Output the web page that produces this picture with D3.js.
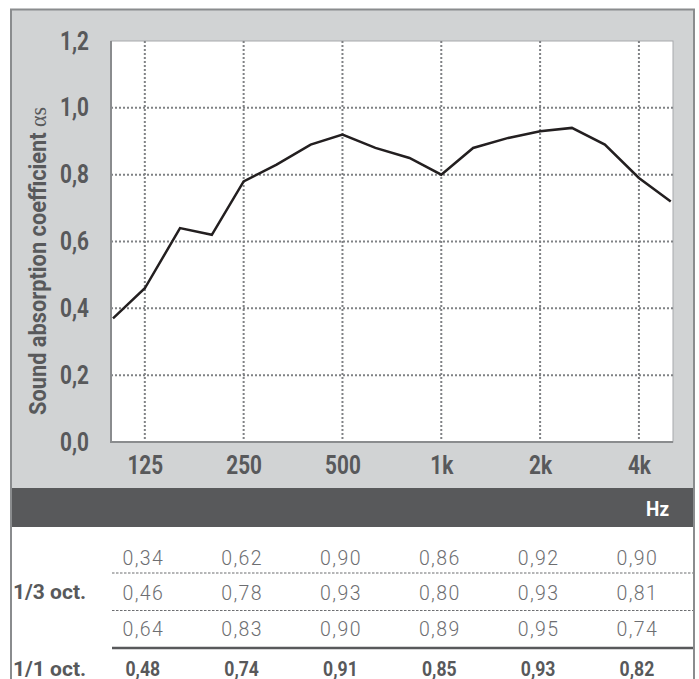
<!DOCTYPE html>
<html>
<head>
<meta charset="utf-8">
<script src="https://cdn.jsdelivr.net/npm/d3@7"></script>
<style>
  body { margin: 0; background: #fff; }
  text { font-family: Roboto, "Liberation Sans", sans-serif; }
</style>
</head>
<body>
<script>
// data
const thirdOctFreqs = [100,125,160,200,250,315,400,500,630,800,1000,1250,1600,2000,2500,3150,4000,5000];
const curveValues = [0.37,0.46,0.64,0.62,0.78,0.83,0.89,0.92,0.88,0.85,0.80,0.88,0.91,0.93,0.94,0.89,0.79,0.72];
const thirdOctValues = [0.34,0.46,0.64,0.62,0.78,0.83,0.90,0.93,0.90,0.86,0.80,0.89,0.92,0.93,0.95,0.90,0.81,0.74];
const octFreqs = [125,250,500,1000,2000,4000];
const octLabels = ['125','250','500','1k','2k','4k'];
const octValues = [0.48,0.74,0.91,0.85,0.93,0.82];
const yTicks = [0,0.2,0.4,0.6,0.8,1.0,1.2];

const W = 699, H = 679;
const plot = {left: 111, right: 673, top: 41, bottom: 442};
const dark = '#58595b';
const comma = v => d3.format('.2f')(v).replace('.', ',');

// condensed look: squeeze text horizontally round its anchor
function squeeze(sel, sx) {
    sel.each(function() {
        const t = d3.select(this);
        const x0 = +t.attr('x') || 0, y0 = +t.attr('y') || 0;
        t.attr('x', 0).attr('y', 0)
            .attr('transform', `translate(${x0},${y0}) scale(${sx},1)`);
    });
}

const svg = d3.select('body').append('svg')
    .attr('width', W)
    .attr('height', H);

const x = d3.scaleLog().base(2)
    .domain([98.6, 5080])
    .range([plot.left, plot.right]);

const y = d3.scaleLinear()
    .domain([0, 1.2])
    .range([plot.bottom, plot.top]);

// outer panel + dark band
svg.append('rect')
    .attr('x', 11).attr('y', 9.5)
    .attr('width', 683).attr('height', 479)
    .attr('fill', '#d1d3d4');
svg.append('rect')
    .attr('x', 11).attr('y', 488)
    .attr('width', 683).attr('height', 39)
    .attr('fill', dark);
svg.append('path')
    .attr('d', `M11,${H} V9.5 H694 V${H}`)
    .attr('fill', 'none')
    .attr('stroke', '#8a8c8e')
    .attr('stroke-width', 2);

// plot area
svg.append('rect')
    .attr('x', plot.left).attr('y', plot.top)
    .attr('width', plot.right - plot.left)
    .attr('height', plot.bottom - plot.top)
    .attr('fill', '#fff')
    .attr('stroke', '#a7a9ac')
    .attr('stroke-width', 1);

// grid
svg.append('g')
    .selectAll('line')
    .data(yTicks.filter(d => d > 0 && d < 1.2))
    .join('line')
    .attr('x1', plot.left).attr('x2', plot.right)
    .attr('y1', d => y(d)).attr('y2', d => y(d))
    .attr('stroke', '#808285')
    .attr('stroke-width', 2)
    .attr('stroke-dasharray', '2,2');

svg.append('g')
    .selectAll('line')
    .data(octFreqs)
    .join('line')
    .attr('x1', d => x(d)).attr('x2', d => x(d))
    .attr('y1', plot.top).attr('y2', plot.bottom)
    .attr('stroke', '#808285')
    .attr('stroke-width', 2)
    .attr('stroke-dasharray', '2,2');

// axis lines
svg.append('path')
    .attr('d', `M${plot.left},${plot.top} V${plot.bottom} H${plot.right}`)
    .attr('fill', 'none')
    .attr('stroke', '#8a8c8e')
    .attr('stroke-width', 2);

// curve
const curve = thirdOctFreqs.map((f, i) => ({f: f, v: curveValues[i]}));
svg.append('path')
    .datum(curve)
    .attr('d', d3.line().x(d => x(d.f)).y(d => y(d.v)))
    .attr('fill', 'none')
    .attr('stroke', '#231f20')
    .attr('stroke-width', 2.5);

// axes (labels only)
const yAxis = svg.append('g')
    .attr('transform', `translate(${plot.left},0)`)
    .call(d3.axisLeft(y).tickValues(yTicks).tickSize(0).tickPadding(22)
        .tickFormat(d => d3.format('.1f')(d).replace('.', ',')));
const xAxis = svg.append('g')
    .attr('transform', `translate(0,${plot.bottom})`)
    .call(d3.axisBottom(x).tickValues(octFreqs).tickSize(0).tickPadding(14)
        .tickFormat((d, i) => octLabels[i]));
[yAxis, xAxis].forEach(g => {
    g.select('.domain').remove();
    g.selectAll('text')
        .attr('fill', dark)
        .style('font-family', 'Roboto, "Liberation Sans", sans-serif')
        .style('font-size', '25px')
        .style('font-weight', 'bold');
    squeeze(g.selectAll('text'), 0.83);
});

// y title
const title = svg.append('text')
    .attr('transform', 'translate(46,261) rotate(-90)')
    .attr('text-anchor', 'middle')
    .attr('fill', dark)
    .attr('textLength', 308)
    .attr('lengthAdjust', 'spacingAndGlyphs')
    .style('font-size', '24px')
    .style('font-weight', 'bold');
title.append('tspan').text('Sound absorption coefficient ');
title.append('tspan')
    .style('font-family', '"Liberation Serif", serif')
    .style('font-weight', 'normal')
    .text('αs');

// Hz
svg.append('text')
    .attr('x', 669).attr('y', 516)
    .attr('text-anchor', 'end')
    .attr('fill', '#fff')
    .style('font-size', '21px')
    .style('font-weight', 'bold')
    .text('Hz')
    .call(squeeze, 0.9);

// table
const rowBase = [565, 600, 636];
const tableLeft = 112, tableRight = 693;

[573, 610.5].forEach(yy => {
    svg.append('line')
        .attr('x1', tableLeft).attr('x2', tableRight)
        .attr('y1', yy).attr('y2', yy)
        .attr('stroke', '#6d6e71')
        .attr('stroke-width', 1.2)
        .attr('stroke-dasharray', '2.5,1.5');
});
svg.append('line')
    .attr('x1', tableLeft).attr('x2', tableRight)
    .attr('y1', 648).attr('y2', 648)
    .attr('stroke', dark)
    .attr('stroke-width', 2.3);

const cells = thirdOctValues.map((v, i) => ({
    v: v,
    col: Math.floor(i / 3),
    row: i % 3
}));
svg.append('g')
    .selectAll('text')
    .data(cells)
    .join('text')
    .attr('x', d => x(octFreqs[d.col]) - 1.5)
    .attr('y', d => rowBase[d.row])
    .attr('text-anchor', 'middle')
    .attr('fill', '#6d6e71')
    .style('font-weight', 300)
    .style('font-size', '19.5px')
    .style('letter-spacing', '1.4px')
    .text(d => comma(d.v));

svg.append('g')
    .selectAll('text')
    .data(octValues)
    .join('text')
    .attr('x', (d, i) => x(octFreqs[i]) - 2)
    .attr('y', 675.5)
    .attr('text-anchor', 'middle')
    .attr('fill', dark)
    .style('font-size', '21px')
    .style('font-weight', 'bold')
    .text(d => comma(d))
    .call(squeeze, 0.84);

svg.append('text')
    .attr('x', 13).attr('y', 599)
    .attr('fill', dark)
    .style('font-size', '21px')
    .style('font-weight', 'bold')
    .text('1/3 oct.');
svg.append('text')
    .attr('x', 13).attr('y', 675.5)
    .attr('fill', dark)
    .style('font-size', '21px')
    .style('font-weight', 'bold')
    .text('1/1 oct.');
</script>
</body>
</html>
